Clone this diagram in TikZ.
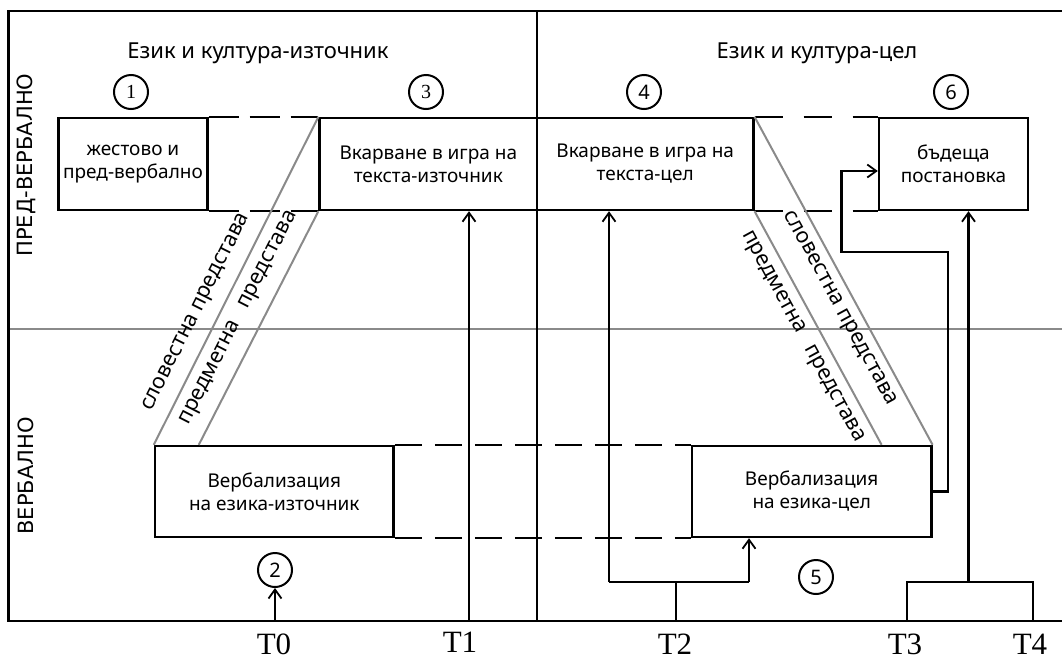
\documentclass[tikz,border=0pt]{standalone}
\usepackage{fontspec}
\setmainfont{Noto Sans}[Script=Cyrillic,Language=Bulgarian]
\newfontfamily\sidefont{DejaVu Sans}
\newfontfamily\timefont{Liberation Serif}
\usetikzlibrary{arrows.meta}
\definecolor{rulegrey}{RGB}{138,138,138}

\tikzset{
  frameline/.style={line width=2.8pt},
  stagebox/.style={draw, line width=2.4pt, align=center, inner sep=0pt,
    font=\fontsize{19}{23}\selectfont},
  greyline/.style={draw=rulegrey, line width=2pt},
  gapline/.style={line width=2.4pt},
  link/.style={line width=2.2pt},
  arrowlink/.style={line width=2.2pt, -{Straight Barb[length=9pt,width=13pt,line width=1.8pt]}},
  numcircle/.style={circle, draw, line width=2pt, minimum size=34pt, inner sep=0pt,
    font=\fontsize{20}{20}\selectfont},
  diaglabel/.style={sloped, inner sep=2pt, font=\fontsize{21.5}{21.5}\selectfont},
  sidelabel/.style={rotate=90, font=\sidefont\fontsize{21}{21}\selectfont},
  timelabel/.style={font=\timefont\fontsize{31}{31}\selectfont},
  titlelabel/.style={font=\fontsize{22}{22}\selectfont}
}

\begin{document}
\begin{tikzpicture}[x=1pt,y=-1pt]
\useasboundingbox (0,0) rectangle (1062,659);

% level separator
\draw[greyline] (8.6,329) -- (1062,329);

% outer frame and the source / target divider
\draw[frameline] (1070,11) -- (8.6,11) -- (8.6,621) -- (1070,621);
\draw[frameline] (537,11) -- (537,621);

% headings
\node[titlelabel] (srcTitle) at (258,53) {Език и култура-източник};
\node[titlelabel] (tgtTitle) at (817,53) {Език и култура-цел};
\node[sidelabel] (preLbl) at (26,165) {ПРЕД-ВЕРБАЛНО};
\node[sidelabel] (verbLbl) at (26,476) {ВЕРБАЛНО};

% stages
\node[stagebox, minimum width=149pt, minimum height=92pt] (b1) at (133,164)
  {жестово и\\пред-вербално};
\node[stagebox, minimum width=217.4pt, minimum height=92pt] (b3) at (428.3,164)
  {Вкарване в игра на\\текста-източник};
\node[stagebox, minimum width=216.3pt, minimum height=92pt] (b4) at (645.2,164)
  {Вкарване в игра на\\текста-цел};
\node[stagebox, minimum width=149pt, minimum height=92pt] (b6) at (953.5,164)
  {бъдеща\\постановка};
\node[stagebox, minimum width=238.6pt, minimum height=91pt] (b2) at (274.3,491.5)
  {Вербализация\\на езика-източник};
\node[stagebox, minimum width=239.4pt, minimum height=91pt] (b5) at (811.7,491.5)
  {Вербализация\\на езика-цел};

% dashed links between stages of the same level
\draw[gapline, dash pattern=on 30pt off 11pt] (b1.north east) -- (b3.north west);
\draw[gapline, dash pattern=on 30pt off 11pt] (b1.south east) -- (b3.south west);
\draw[gapline, dash pattern=on 28pt off 21pt] (b4.north east) -- (b6.north west);
\draw[gapline, dash pattern=on 28pt off 21pt] (b4.south east) -- (b6.south west);
\draw[gapline, dash pattern=on 27.5pt off 12.5pt] (b2.north east) -- (b5.north west);
\draw[gapline, dash pattern=on 27.5pt off 12.5pt] (b2.south east) -- (b5.south west);

% representations between the levels
\coordinate (b2in) at ([xshift=45pt]b2.north west);
\coordinate (b5in) at ([xshift=-51pt]b5.north east);
\draw[greyline] (b2.north west) -- (b3.north west)
  node[diaglabel, pos=0.375, above=9pt] {словестна представа};
\draw[greyline] (b2in) -- (b3.south west)
  node[diaglabel, pos=0.5, above=10pt] {предметна\hspace{16pt}представа};
\draw[greyline] (b4.north east) -- (b5.north east)
  node[diaglabel, pos=0.56, below=6pt] {словестна представа};
\draw[greyline] (b4.south east) -- (b5in)
  node[diaglabel, pos=0.5, below=7pt] {предметна\hspace{16pt}представа};

% step numbers
\node[numcircle] (n1) at (131,92) {\timefont 1};
\node[numcircle] (n3) at (426,92) {\timefont 3};
\node[numcircle] (n4) at (644,92) {4};
\node[numcircle] (n6) at (951,92) {6};
\node[numcircle] (n2) at (275,570) {2};
\node[numcircle] (n5) at (816,577) {5};

% time axis
\coordinate (t0) at (275,621);
\coordinate (t1) at (469,621);
\coordinate (t2) at (676,621);
\coordinate (t2j) at (676,582);
\coordinate (t2l) at (609,582);
\coordinate (t2r) at (749,582);
\coordinate (t3) at (907,621);
\coordinate (t3j) at (907,582);
\coordinate (t4) at (1033,621);
\coordinate (t4j) at (1033,582);
\coordinate (t34) at (968.5,582);

\node[timelabel] (T0) at (274,644) {T0};
\node[timelabel] (T1) at (460,642) {T1};
\node[timelabel] (T2) at (675,644) {T2};
\node[timelabel] (T3) at (905,644) {T3};
\node[timelabel] (T4) at (1030,644) {T4};

\draw[arrowlink] (t0) -- (n2.south);
\draw[arrowlink] (t1) -- (t1 |- b3.south);
\draw[link] (t2) -- (t2j);
\draw[link] (t2l) -- (t2r);
\draw[arrowlink] (t2l) -- (t2l |- b4.south);
\draw[arrowlink] (t2r) -- (t2r |- b5.south);
\draw[link] (t3) -- (t3j) -- (t4j) -- (t4);
\draw[arrowlink] (t34) -- (t34 |- b6.south);

% from target verbalisation to the future staging
\coordinate (k1) at (948,252);
\coordinate (k2) at (841.5,171);
\draw[arrowlink] (b5.east) -| (k1) -| (k2) -- (k2 -| b6.west);
\end{tikzpicture}
\end{document}
